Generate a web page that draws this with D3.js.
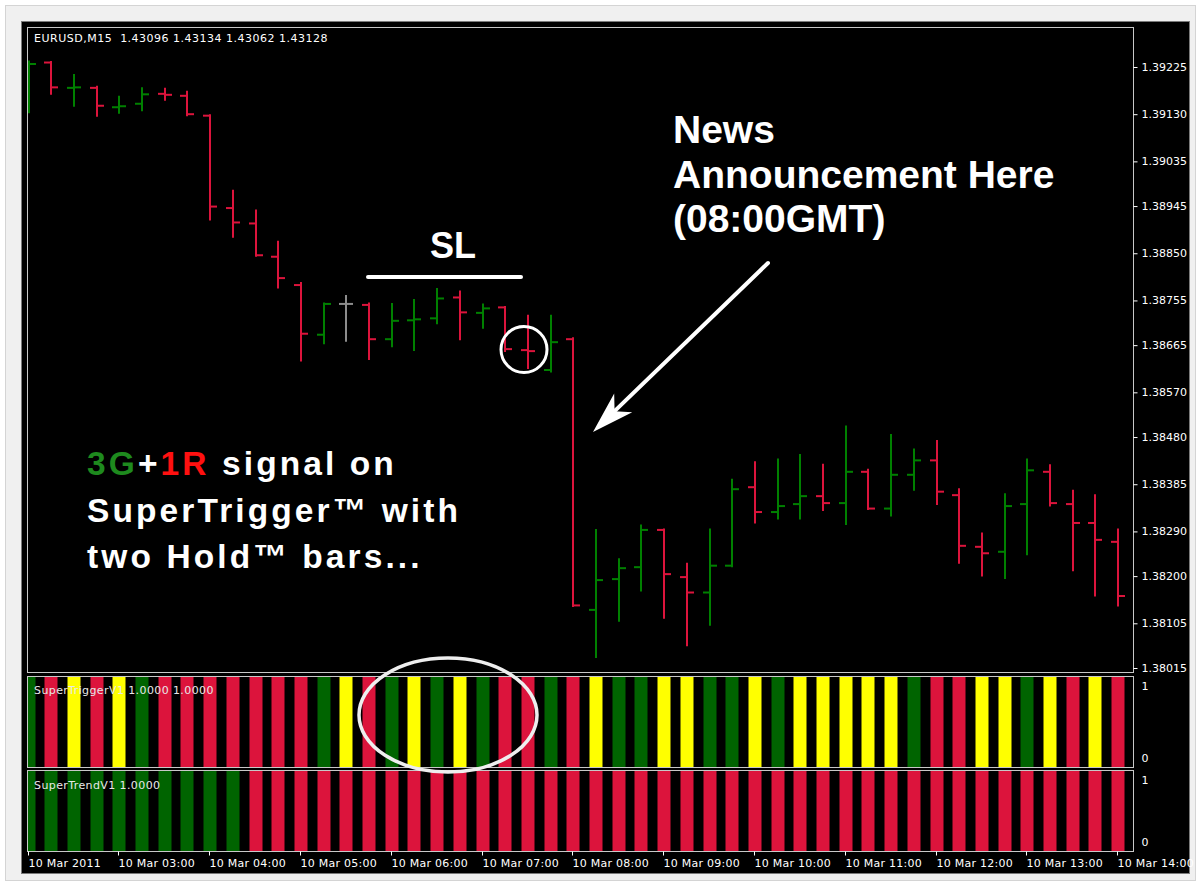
<!DOCTYPE html>
<html><head><meta charset="utf-8">
<script src="https://cdn.jsdelivr.net/npm/d3@7"></script>
<style>html,body{margin:0;padding:0;background:#fff;} svg{display:block;}</style>
</head><body>
<script>
// ---------- DATA ----------
const times = ["02:00","02:15","02:30","02:45","03:00","03:15","03:30","03:45",
  "04:00","04:15","04:30","04:45","05:00","05:15","05:30","05:45",
  "06:00","06:15","06:30","06:45","07:00","07:15","07:30","07:45",
  "08:00","08:15","08:30","08:45","09:00","09:15","09:30","09:45",
  "10:00","10:15","10:30","10:45","11:00","11:15","11:30","11:45",
  "12:00","12:15","12:30","12:45","13:00","13:15","13:30","13:45","14:00"];
const open  = [1.39159,1.39234,1.39183,1.39183,1.39144,1.39151,1.39171,1.39167,1.39127,1.38941,
  1.38910,1.38843,1.38786,1.38686,1.38748,1.38746,1.38677,1.38715,1.38719,1.38761,
  1.38730,1.38741,1.38655,1.38615,1.38677,1.38132,1.38194,1.38218,1.38293,1.38198,
  1.38167,1.38221,1.38379,1.38329,1.38345,1.38361,1.38347,1.38410,1.38336,1.38404,
  1.38433,1.38363,1.38259,1.38249,1.38345,1.38410,1.38345,1.38307,1.38269];
const high  = [1.39236,1.39235,1.39209,1.39185,1.39165,1.39182,1.39181,1.39175,1.39128,1.38976,
  1.38936,1.38873,1.38790,1.38749,1.38764,1.38749,1.38748,1.38756,1.38778,1.38773,
  1.38747,1.38742,1.38724,1.38724,1.38679,1.38293,1.38234,1.38302,1.38294,1.38225,
  1.38294,1.38394,1.38429,1.38435,1.38444,1.38424,1.38501,1.38414,1.38484,1.38455,
  1.38472,1.38375,1.38286,1.38365,1.38435,1.38423,1.38372,1.38363,1.38294];
const low   = [1.39134,1.39171,1.39147,1.39127,1.39133,1.39138,1.39159,1.39128,1.38918,1.38883,
  1.38845,1.38781,1.38634,1.38669,1.38674,1.38637,1.38663,1.38655,1.38709,1.38677,
  1.38700,1.38653,1.38619,1.38612,1.38140,1.38037,1.38110,1.38171,1.38116,1.38061,
  1.38102,1.38220,1.38308,1.38316,1.38316,1.38333,1.38305,1.38335,1.38322,1.38374,
  1.38345,1.38227,1.38201,1.38196,1.38244,1.38342,1.38212,1.38161,1.38141];
const close = [1.39231,1.39184,1.39184,1.39147,1.39146,1.39170,1.39169,1.39130,1.38944,1.38912,
  1.38846,1.38800,1.38688,1.38748,1.38748,1.38677,1.38714,1.38717,1.38759,1.38731,
  1.38739,1.38657,1.38653,1.38671,1.38141,1.38192,1.38216,1.38293,1.38204,1.38167,
  1.38221,1.38375,1.38329,1.38341,1.38361,1.38347,1.38410,1.38336,1.38404,1.38433,
  1.38370,1.38261,1.38246,1.38341,1.38413,1.38347,1.38307,1.38273,1.38160];
const superTrigger = ["G","R","Y","R","Y","G","R","R","R","R","R","R","R","G","Y","R","G","Y","G","Y",
  "G","R","R","G","R","Y","G","G","Y","Y","G","G","Y","G","Y","Y","Y","Y","Y","G",
  "R","R","Y","Y","G","Y","R","Y","R"];
const superTrend = ["G","G","G","G","G","G","G","G","G","G","R","R","R","R","R","R","R","R","R","R",
  "R","R","R","R","R","R","R","R","R","R","R","R","R","R","R","R","R","R","R","R",
  "R","R","R","R","R","R","R","R","R"];
const priceTicks = [1.39225,1.39130,1.39035,1.38945,1.38850,1.38755,1.38665,1.38570,1.38480,
  1.38385,1.38290,1.38200,1.38105,1.38015];
const hourTicks = ["02:00","03:00","04:00","05:00","06:00","07:00","08:00","09:00","10:00",
  "11:00","12:00","13:00","14:00"];
const hourLabels = ["10 Mar 2011","10 Mar 03:00","10 Mar 04:00","10 Mar 05:00","10 Mar 06:00",
  "10 Mar 07:00","10 Mar 08:00","10 Mar 09:00","10 Mar 10:00","10 Mar 11:00","10 Mar 12:00",
  "10 Mar 13:00","10 Mar 14:00"];
const header = "EURUSD,M15  1.43096 1.43134 1.43062 1.43128";

// ---------- LAYOUT ----------
const W = 1201, H = 888;
const PL = 27, PR = 1133;
const main = {top: 27, bottom: 672};
const trig = {top: 676, bottom: 767};
const trend = {top: 770, bottom: 851};
const stateColor = {G: "#006400", R: "#dc143c", Y: "#ffff00"};
const upColor = "#008000", downColor = "#dc143c", dojiColor = "#8c8c8c";
const frameColor = "#c8c8c8";
const textFont = "DejaVu Sans";

const parse = d3.timeParse("%H:%M");
const x = d3.scaleTime().domain([parse(times[0]), parse(times[times.length-1])]).range([28.5, 1118.1]);
const y = d3.scaleLinear().domain([1.38015, 1.39225]).range([668, 67]);
const yTrig = d3.scaleLinear().domain([0, 1]).range([trig.bottom, trig.top + 1]);
const yTrend = d3.scaleLinear().domain([0, 1]).range([trend.bottom, trend.top + 1]);

const svg = d3.select("body").append("svg").attr("width", W).attr("height", H);

// window chrome
svg.append("rect").attr("width", W).attr("height", H).attr("fill", "#ffffff");
svg.append("rect").attr("x", 5.5).attr("y", 5.5).attr("width", 1190).attr("height", 875)
  .attr("fill", "#f0f0f0").attr("stroke", "#d4d4d4");
svg.append("rect").attr("x", 21.5).attr("y", 21.5).attr("width", 1168).attr("height", 852)
  .attr("fill", "#000").attr("stroke", "#7a7a7a");

const defs = svg.append("defs");
[["clipMain", main], ["clipTrig", trig], ["clipTrend", trend]].forEach(([id, p]) => {
  defs.append("clipPath").attr("id", id).append("rect")
    .attr("x", PL + 1).attr("y", p.top + 1).attr("width", PR - PL - 1).attr("height", p.bottom - p.top - 1);
});

const bars = times.map((t, i) => ({t: parse(t), o: open[i], h: high[i], l: low[i], c: close[i],
  st: superTrigger[i], sd: superTrend[i]}));

// ---------- MAIN OHLC ----------
const gMain = svg.append("g").attr("clip-path", "url(#clipMain)");
const ohlc = gMain.selectAll("g.bar").data(bars).join("g")
  .attr("stroke", d => d.c > d.o ? upColor : (d.c < d.o ? downColor : dojiColor))
  .attr("stroke-width", 2);
ohlc.append("line")
  .attr("x1", d => Math.round(x(d.t))).attr("x2", d => Math.round(x(d.t)))
  .attr("y1", d => y(d.h) - 1).attr("y2", d => y(d.l) + 1);
ohlc.append("line")
  .attr("x1", d => Math.round(x(d.t)) - 7).attr("x2", d => Math.round(x(d.t)))
  .attr("y1", d => y(d.o)).attr("y2", d => y(d.o));
ohlc.append("line")
  .attr("x1", d => Math.round(x(d.t))).attr("x2", d => Math.round(x(d.t)) + 7)
  .attr("y1", d => y(d.c)).attr("y2", d => y(d.c));

// ---------- INDICATOR HISTOGRAMS ----------
const bw = 13;
svg.append("g").attr("clip-path", "url(#clipTrig)").selectAll("rect").data(bars).join("rect")
  .attr("x", d => Math.round(x(d.t)) - bw / 2).attr("width", bw)
  .attr("y", yTrig(1)).attr("height", yTrig(0) - yTrig(1))
  .attr("fill", d => stateColor[d.st]);
svg.append("g").attr("clip-path", "url(#clipTrend)").selectAll("rect").data(bars).join("rect")
  .attr("x", d => Math.round(x(d.t)) - bw / 2).attr("width", bw)
  .attr("y", yTrend(1)).attr("height", yTrend(0) - yTrend(1))
  .attr("fill", d => stateColor[d.sd]);

// ---------- PANEL FRAMES ----------
[main, trig, trend].forEach(p => {
  svg.append("rect").attr("x", PL + 0.5).attr("y", p.top + 0.5)
    .attr("width", PR - PL).attr("height", p.bottom - p.top)
    .attr("fill", "none").attr("stroke", frameColor);
});

// ---------- AXES ----------
const yAxis = svg.append("g").attr("transform", `translate(${PR + 0.5},0)`)
  .call(d3.axisRight(y).tickValues(priceTicks).tickSize(4).tickPadding(4).tickFormat(d3.format(".5f")));
yAxis.select(".domain").remove();
yAxis.selectAll(".tick line").attr("stroke", "#ffffff");
yAxis.selectAll("text").attr("fill", "#ffffff").attr("font-family", textFont).attr("font-size", 11);

function indicatorAxis(scale) {
  const g = svg.append("g").attr("transform", `translate(${PR + 0.5},0)`)
    .call(d3.axisRight(scale).tickValues([0, 1]).tickSize(0).tickPadding(8).tickFormat(d3.format("d")));
  g.select(".domain").remove();
  g.selectAll("text").attr("fill", "#ffffff").attr("font-family", textFont).attr("font-size", 11)
    .attr("dy", d => d === 1 ? "1.15em" : "-0.5em");
}
indicatorAxis(yTrig);
indicatorAxis(yTrend);

const hourDates = hourTicks.map(parse);
const xAxis = svg.append("g").attr("transform", `translate(0,${trend.bottom + 0.5})`)
  .call(d3.axisBottom(x).tickValues(hourDates).tickSize(4).tickPadding(4)
    .tickFormat((d, i) => hourLabels[i]));
xAxis.select(".domain").remove();
xAxis.selectAll(".tick").attr("transform", d => `translate(${Math.round(x(d)) - 0.5},0)`);
xAxis.selectAll(".tick line").attr("stroke", "#ffffff");
xAxis.selectAll("text").attr("fill", "#ffffff").attr("font-family", textFont).attr("font-size", 11)
  .attr("letter-spacing", 0.25).attr("text-anchor", "start").attr("x", 0);

// ---------- PANEL LABELS ----------
svg.append("text").attr("x", 34).attr("y", 42).style("white-space", "pre").attr("letter-spacing", 0.5)
  .attr("fill", "#ffffff").attr("font-family", textFont).attr("font-size", 11).text(header);
svg.append("text").attr("x", 34).attr("y", 694).attr("letter-spacing", 0.4)
  .attr("fill", "#e8e8e8").attr("font-family", textFont).attr("font-size", 11).text("SuperTriggerV1 1.0000 1.0000");
svg.append("text").attr("x", 34).attr("y", 789).attr("letter-spacing", 0.4)
  .attr("fill", "#e8e8e8").attr("font-family", textFont).attr("font-size", 11).text("SuperTrendV1 1.0000");

// ---------- ANNOTATIONS ----------
const ann = svg.append("g").attr("fill", "#ffffff").attr("font-family", "Liberation Sans, Arial, sans-serif")
  .attr("font-weight", "bold");

ann.append("text").attr("x", 453).attr("y", 258).attr("text-anchor", "middle").attr("font-size", 36).text("SL");
svg.append("line").attr("x1", 368).attr("x2", 521).attr("y1", 277).attr("y2", 277)
  .attr("stroke", "#ffffff").attr("stroke-width", 4).attr("stroke-linecap", "round");

const news = ["News", "Announcement Here", "(08:00GMT)"];
news.forEach((s, i) => ann.append("text").attr("x", 673).attr("y", 143 + i * 44.5).attr("font-size", 39).text(s));

const sig = ann.append("g").attr("font-size", 33.5).attr("letter-spacing", 3.1);
const l1 = sig.append("text").attr("x", 87).attr("y", 475);
l1.append("tspan").attr("fill", "#1e8a1e").text("3G");
l1.append("tspan").attr("fill", "#ffffff").text("+");
l1.append("tspan").attr("fill", "#ff1010").text("1R");
l1.append("tspan").attr("fill", "#ffffff").text(" signal on");
sig.append("text").attr("x", 87).attr("y", 521.5).text("SuperTrigger\u2122 with");
sig.append("text").attr("x", 87).attr("y", 568).text("two Hold\u2122 bars...");

// small circle on SL bar
svg.append("circle").attr("cx", 524).attr("cy", 349.5).attr("r", 23)
  .attr("fill", "none").attr("stroke", "#ffffff").attr("stroke-width", 3);
// big ellipse over indicator
svg.append("ellipse").attr("cx", 448).attr("cy", 715).attr("rx", 89).attr("ry", 57)
  .attr("fill", "none").attr("stroke", "#eeeeee").attr("stroke-width", 3.5);

// arrow
const sx = 768, sy = 263, tx = 593, ty = 432;
const len = Math.hypot(tx - sx, ty - sy), ux = (tx - sx) / len, uy = (ty - sy) / len;
const nx = -uy, ny = ux;
const hb = 42, hw = 13, notch = 30;
svg.append("line").attr("x1", sx).attr("y1", sy).attr("x2", tx - ux * notch).attr("y2", ty - uy * notch)
  .attr("stroke", "#ffffff").attr("stroke-width", 4).attr("stroke-linecap", "round");
svg.append("path").attr("fill", "#ffffff")
  .attr("d", `M${tx},${ty} L${tx - ux * hb + nx * hw},${ty - uy * hb + ny * hw} L${tx - ux * notch},${ty - uy * notch} L${tx - ux * hb - nx * hw},${ty - uy * hb - ny * hw} Z`);
</script>
</body></html>
